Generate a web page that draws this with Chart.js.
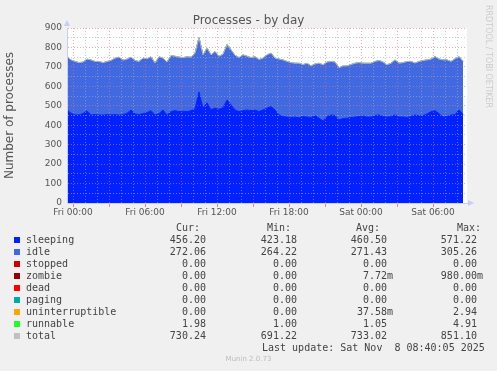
<!DOCTYPE html>
<html>
<head>
<meta charset="utf-8">
<script src="https://cdn.jsdelivr.net/npm/chart.js@4/dist/chart.umd.min.js"></script>
<style>
  body { margin: 0; width: 497px; height: 371px; overflow: hidden; position: relative;
         background: #f0f0f0; font-family: "DejaVu Sans", sans-serif; color: #555; }
  #chart { position: absolute; left: 0; top: 0; }
  .t { position: absolute; white-space: pre; }
  #title { left: 0; width: 497px; top: 13px; text-align: center; font-size: 12px; line-height: 14px; }
  #rrd { left: 484px; top: 5px; font-size: 8px; color: #ccc; writing-mode: vertical-rl; }
  #munin { left: 0; width: 497px; top: 355px; text-align: center; font-size: 7px; color: #bbb; }
  .leg { font-family: "DejaVu Sans Mono", monospace; font-size: 10px; line-height: 12px; color: #444; }
  .sw { position: absolute; width: 6px; height: 6px; }
</style>
</head>
<body>
<canvas id="chart" width="497" height="371"></canvas>
<div id="title" class="t">Processes - by day</div>
<div id="rrd" class="t">RRDTOOL / TOBI OETIKER</div>
<div id="munin" class="t">Munin 2.0.73</div>
<div id="legend"></div>
<script>
// samples every 20 min, first one at Thu 23:30 (hour -0.5 relative to Fri 00:00)
const START_HOUR = -0.5;
const STEP_HOURS = 1 / 3;

const sleeping = [
  479, 462, 453, 453, 460, 474, 453, 455, 453, 452,
  455, 453, 455, 452, 455, 462, 478, 458, 455, 460,
  465, 475, 453, 460, 478, 453, 470, 475, 470, 472,
  470, 475, 485, 571, 488, 515, 480, 488, 482, 490,
  530, 505, 478, 470, 475, 478, 475, 478, 470, 479,
  488, 496, 478, 453, 445, 442, 440, 442, 438, 445,
  442, 440, 450, 436, 423, 445, 453, 450, 428, 434,
  436, 440, 442, 445, 448, 442, 442, 450, 453, 445,
  442, 445, 453, 442, 443, 440, 445, 453, 448, 450,
  458, 470, 475, 460, 442, 445, 453, 455, 479, 456
];
const idle = [
  273, 273, 274, 268, 264, 265, 282, 272, 274, 269,
  272, 279, 289, 297, 279, 277, 271, 274, 272, 284,
  276, 276, 266, 291, 266, 271, 287, 279, 279, 275,
  281, 274, 284, 279, 273, 281, 281, 290, 272, 274,
  283, 282, 281, 277, 286, 276, 272, 273, 267, 265,
  273, 274, 266, 286, 290, 285, 281, 276, 280, 266,
  276, 264, 264, 282, 287, 279, 274, 274, 266, 270,
  268, 271, 276, 276, 270, 276, 276, 277, 279, 279,
  268, 273, 282, 276, 278, 287, 282, 266, 279, 282,
  277, 269, 277, 279, 293, 290, 274, 286, 273, 272
];
const runnable = [
  1, 1, 2, 1, 1, 1, 1, 1, 2, 1,
  1, 1, 1, 1, 2, 1, 1, 1, 1, 1,
  2, 1, 1, 1, 1, 1, 1, 1, 2, 1,
  1, 1, 1, 1, 1, 2, 1, 1, 1, 1,
  5, 1, 1, 1, 1, 2, 1, 1, 1, 1,
  1, 1, 1, 2, 1, 1, 1, 1, 1, 1,
  1, 1, 2, 1, 1, 1, 1, 1, 1, 1,
  1, 2, 1, 1, 1, 1, 1, 1, 2, 1,
  1, 1, 1, 1, 1, 1, 2, 1, 1, 1,
  1, 1, 1, 3, 1, 1, 1, 1, 1, 2
];
const total = [
  753, 736, 728, 722, 725, 740, 736, 728, 728, 722,
  728, 733, 745, 750, 735, 740, 750, 733, 728, 745,
  742, 752, 720, 752, 745, 725, 758, 755, 750, 748,
  752, 750, 770, 851, 762, 797, 762, 779, 755, 765,
  814, 788, 760, 748, 762, 755, 748, 752, 738, 745,
  762, 771, 745, 740, 736, 728, 722, 719, 719, 712,
  719, 705, 715, 719, 711, 725, 728, 725, 695, 705,
  705, 712, 719, 722, 719, 719, 719, 728, 733, 725,
  711, 719, 736, 719, 722, 728, 728, 720, 728, 733,
  736, 740, 753, 740, 736, 736, 728, 742, 753, 730
];

const yTicks = [0, 50, 100, 150, 200, 250, 300, 350, 400, 450, 500, 550, 600, 650, 700, 750, 800, 850, 900];
const xTickLabels = { 0: "Fri 00:00", 6: "Fri 06:00", 12: "Fri 12:00", 18: "Fri 18:00", 24: "Sat 00:00", 30: "Sat 06:00" };

const legendNames = ["sleeping", "idle", "stopped", "zombie", "dead", "paging", "uninterruptible", "runnable", "total"];
const legendColors = ["#0022ff", "#4169e1", "#cc0000", "#990000", "#ff0000", "#00aaaa", "#ffa500", "#22ff22", "#c0c0c0"];
const curVals = ["456.20", "272.06", "0.00", "0.00", "0.00", "0.00", "0.00", "1.98", "730.24"];
const minVals = ["423.18", "264.22", "0.00", "0.00", "0.00", "0.00", "0.00", "1.00", "691.22"];
const avgVals = ["460.50", "271.43", "0.00", "7.72m", "0.00", "0.00", "37.58m", "1.05", "733.02"];
const maxVals = ["571.22", "305.26", "0.00", "980.00m", "0.00", "0.00", "2.94", "4.91", "851.10"];
const lastUpdate = "Last update: Sat Nov  8 08:40:05 2025";

function points(values) {
  return values.map((v, i) => ({ x: START_HOUR + i * STEP_HOURS, y: v }));
}

function buildLegend() {
  const box = document.getElementById("legend");
  let html = "";
  const heads = [["Cur:", 176], ["Min:", 267], ["Avg:", 356], ["Max:", 457]];
  heads.forEach(([txt, left]) => {
    html += `<div class="t leg" style="left:${left}px;top:222px">${txt}</div>`;
  });
  const cols = [[curVals, 212], [minVals, 303], [avgVals, 393], [maxVals, 483]];
  legendNames.forEach((name, i) => {
    const top = 234 + i * 12;
    html += `<div class="sw" style="left:14px;top:${top + 3}px;background:${legendColors[i]}"></div>`;
    html += `<div class="t leg" style="left:26px;top:${top}px">${name}</div>`;
    cols.forEach(([vals, right]) => {
      const s = /[a-z]$/.test(vals[i]) ? vals[i] : vals[i] + " ";
      html += `<div class="t leg" style="left:${right - 100}px;width:100px;text-align:right;top:${top}px">${s}</div>`;
    });
  });
  html += `<div class="t leg" style="left:262px;top:342px">${lastUpdate}</div>`;
  box.innerHTML = html;
}

// white plot background + axis arrows like rrdtool
const plotDecor = {
  id: "plotDecor",
  beforeDraw(c) {
    const { ctx, chartArea: a } = c;
    ctx.save();
    ctx.fillStyle = "#ffffff";
    ctx.fillRect(a.left, a.top, a.right - a.left, a.bottom - a.top);
    ctx.restore();
  },
  afterDraw(c) {
    const { ctx, chartArea: a } = c;
    ctx.save();
    ctx.fillStyle = "#c8cdf2";
    ctx.beginPath();
    ctx.moveTo(a.left - 3, a.top - 2);
    ctx.lineTo(a.left + 3, a.top - 2);
    ctx.lineTo(a.left, a.top - 8);
    ctx.fill();
    ctx.beginPath();
    ctx.moveTo(a.right + 1, a.bottom - 3);
    ctx.lineTo(a.right + 1, a.bottom + 3);
    ctx.lineTo(a.right + 7, a.bottom);
    ctx.fill();
    ctx.restore();
  }
};

const majorGrid = "rgba(220,120,120,0.6)";
const minorGrid = "rgba(170,170,170,0.6)";

buildLegend();

new Chart(document.getElementById("chart"), {
  type: "line",
  data: {
    datasets: [
      { label: "sleeping", data: points(sleeping), stack: "procs", backgroundColor: "#0022ff",
        borderColor: "#0022ff", borderWidth: 1, fill: "origin", pointRadius: 0 },
      { label: "idle", data: points(idle), stack: "procs", backgroundColor: "#4169e1",
        borderColor: "#4169e1", borderWidth: 1, fill: "-1", pointRadius: 0 },
      { label: "runnable", data: points(runnable), stack: "procs", backgroundColor: "#22ff22",
        borderColor: "#7fdc7f", borderWidth: 1, fill: "-1", pointRadius: 0 },
      { label: "total", data: points(total), stack: "total", order: -1, borderColor: "#b8bcb8",
        borderWidth: 1, fill: false, pointRadius: 0 }
    ]
  },
  options: {
    responsive: false,
    animation: false,
    devicePixelRatio: 1,
    layout: { autoPadding: false, padding: { left: 0, top: 28, right: 30, bottom: 148 } },
    plugins: { legend: { display: false }, tooltip: { enabled: false } },
    elements: { line: { tension: 0 } },
    scales: {
      x: {
        type: "linear",
        min: -0.5,
        max: 32.83,
        afterFit: (s) => { s.height = 20; },
        afterBuildTicks: (s) => {
          const t = [];
          for (let h = 0; h <= 32; h++) t.push({ value: h });
          s.ticks = t;
        },
        grid: {
          z: 1,
          color: (c) => (c.tick && c.tick.value % 3 === 0 ? majorGrid : minorGrid),
          tickColor: (c) => (c.tick && c.tick.value % 3 === 0 ? "#e08a8a" : "rgba(0,0,0,0)"),
          tickLength: 4,
          tickBorderDash: [],
          lineWidth: 1
        },
        border: { display: true, color: "#c8cdf2", dash: [1, 2], z: 2 },
        ticks: {
          autoSkip: false,
          maxRotation: 0,
          padding: 0,
          color: "#555",
          font: { family: "DejaVu Sans", size: 9 },
          callback: (v) => xTickLabels[v] || ""
        }
      },
      y: {
        stacked: true,
        min: 0,
        max: 900,
        afterFit: (s) => { s.width = 67; },
        afterBuildTicks: (s) => { s.ticks = yTicks.map((v) => ({ value: v })); },
        grid: {
          z: 1,
          color: (c) => (c.tick && c.tick.value % 100 === 0 ? majorGrid : minorGrid),
          tickColor: "rgba(0,0,0,0)",
          tickLength: 3,
          lineWidth: 1
        },
        border: { display: true, color: "#c8cdf2", dash: [1, 2], z: 2 },
        title: {
          display: true,
          text: "Number of processes",
          color: "#555",
          font: { family: "DejaVu Sans", size: 12 },
          padding: { top: 3, bottom: 0 }
        },
        ticks: {
          autoSkip: false,
          padding: 2,
          color: "#555",
          font: { family: "DejaVu Sans", size: 9 },
          callback: (v) => (v % 100 === 0 ? String(v) : "")
        }
      }
    }
  },
  plugins: [plotDecor]
});
</script>
</body>
</html>
